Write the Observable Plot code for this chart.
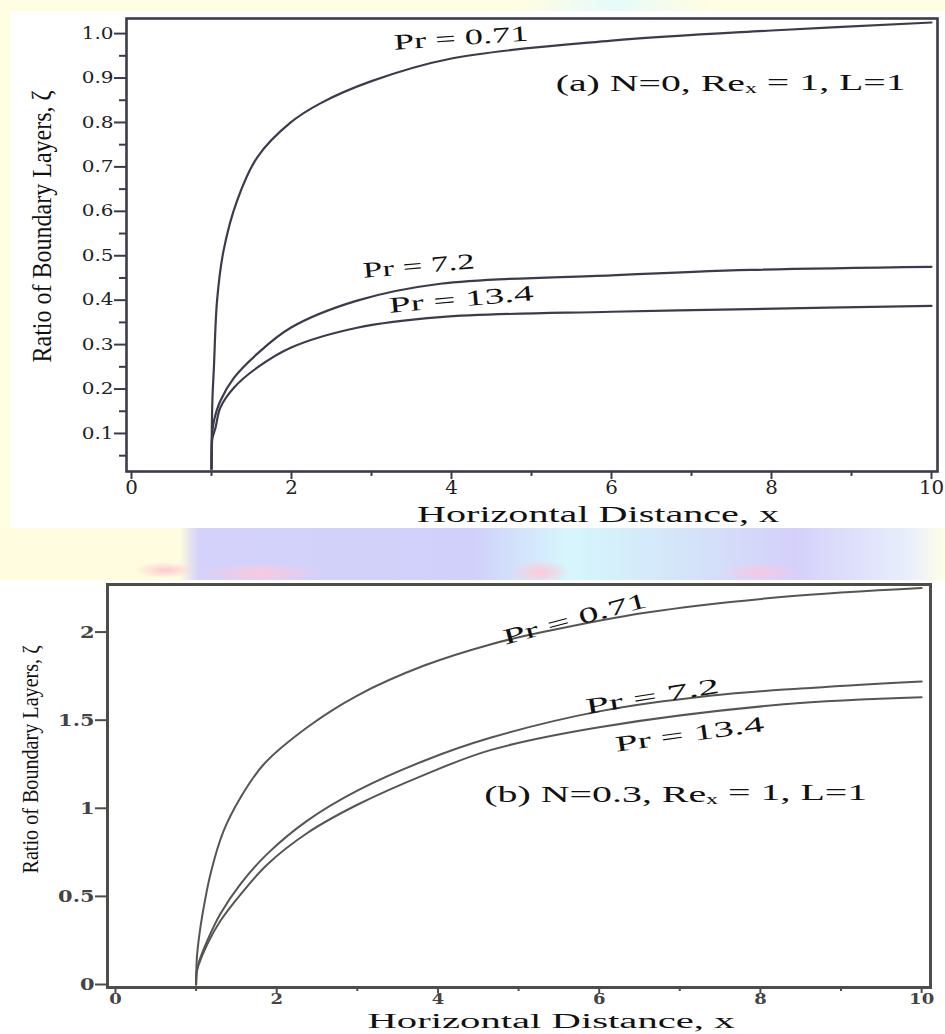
<!DOCTYPE html>
<html><head><meta charset="utf-8">
<script src="https://cdn.jsdelivr.net/npm/d3@7"></script>
<script src="https://cdn.jsdelivr.net/npm/@observablehq/plot@0.6"></script>
<style>
html,body{margin:0;padding:0;}
body{width:945px;height:1034px;position:relative;overflow:hidden;background:#fff;}
#bgTop{position:absolute;left:0;top:0;width:945px;height:528px;background:linear-gradient(90deg,#fffde2 0%,#fffde2 55%,#e6fbfb 65%,#fffde2 75%,#fffde2 100%);}
#whiteTop{position:absolute;left:10px;top:11px;width:935px;height:517px;background:#fff;}
#band{position:absolute;left:0;top:528px;width:945px;height:52px;background:linear-gradient(90deg,#fffce0 0%,#fffce0 19%,#d4d2fa 21%,#d0d0fa 50%,#d6f6fc 60%,#d4e8fa 70%,#d4d0fa 84%,#e8eefc 96%,#fffde8 100%);}
#spots{position:absolute;left:0;top:528px;width:945px;height:52px;background:
 radial-gradient(ellipse 30px 8px at 165px 42px,#ffc8d0 0%,rgba(255,200,210,0) 100%),
 radial-gradient(ellipse 60px 10px at 260px 45px,#ffc8dc 0%,rgba(255,200,220,0) 100%),
 radial-gradient(ellipse 30px 12px at 540px 44px,#ffc8d8 0%,rgba(255,200,220,0) 100%),
 radial-gradient(ellipse 40px 10px at 760px 44px,#f8c8e4 0%,rgba(255,200,220,0) 100%);}
#top{position:absolute;left:0;top:0;}
#bottom{position:absolute;left:0;top:575px;}
</style>
</head><body>
<div id="bgTop"></div><div id="whiteTop"></div><div id="band"></div><div id="spots"></div>
<div id="top"></div><div id="bottom"></div>
<script>
// ---------- data: panel (a) N=0 ----------
const seriesNames = ["Pr = 0.71", "Pr = 7.2", "Pr = 13.4"];
const aX071 = [1.0, 1.004, 1.012, 1.03, 1.07, 1.15, 1.32, 1.57, 1.99, 2.36, 3.0, 4.0, 6.0, 8.0, 10.0];
const aY071 = [0.02, 0.11, 0.18, 0.248, 0.40, 0.511, 0.624, 0.721, 0.80, 0.843, 0.893, 0.944, 0.984, 1.007, 1.025];
const aX72  = [1.0, 1.004, 1.012, 1.03, 1.11, 1.28, 1.57, 1.99, 2.82, 3.86, 6.0, 7.74, 10.0];
const aY72  = [0.02, 0.08, 0.105, 0.128, 0.173, 0.225, 0.279, 0.338, 0.399, 0.437, 0.456, 0.468, 0.475];
const aX134 = [1.0, 1.004, 1.012, 1.05, 1.11, 1.28, 1.57, 1.99, 2.82, 3.86, 6.0, 7.74, 10.0];
const aY134 = [0.02, 0.07, 0.09, 0.113, 0.158, 0.203, 0.248, 0.293, 0.338, 0.362, 0.374, 0.380, 0.387];
const aYTicks = [0.1, 0.2, 0.3, 0.4, 0.5, 0.6, 0.7, 0.8, 0.9, 1.0];
const aYMinor = [0.05, 0.15, 0.25, 0.35, 0.45, 0.55, 0.65, 0.75, 0.85, 0.95];
const aLabelX = [4.12, 3.59, 4.12];
const aLabelY = [0.99, 0.477, 0.402];
const aLabelAngle = [-4, -5, -5];
const aNote = "(a) N=0, Reₓ = 1, L=1";
const aNoteX = 7.49, aNoteY = 0.887;

// ---------- data: panel (b) N=0.3 ----------
const bX071 = [1.0, 1.003, 1.01, 1.04, 1.08, 1.18, 1.34, 1.55, 1.84, 2.38, 3.0, 3.83, 4.65, 5.3, 6.57, 8.29, 10.0];
const bY071 = [0.0, 0.08, 0.155, 0.28, 0.40, 0.63, 0.87, 1.06, 1.25, 1.46, 1.64, 1.81, 1.93, 2.0, 2.11, 2.20, 2.25];
const bX72  = [1.0, 1.003, 1.01, 1.03, 1.14, 1.30, 1.55, 1.88, 2.38, 3.0, 3.83, 4.65, 6.0, 7.4, 8.5, 10.0];
const bY72  = [0.0, 0.05, 0.08, 0.12, 0.25, 0.40, 0.57, 0.74, 0.93, 1.10, 1.27, 1.40, 1.55, 1.64, 1.68, 1.72];
const bX134 = [1.0, 1.003, 1.01, 1.03, 1.14, 1.30, 1.55, 1.88, 2.38, 3.0, 3.83, 4.65, 6.0, 8.29, 10.0];
const bY134 = [0.0, 0.05, 0.075, 0.11, 0.23, 0.36, 0.51, 0.68, 0.86, 1.02, 1.19, 1.33, 1.46, 1.59, 1.63];
const bYTicks = [0, 0.5, 1, 1.5, 2];
const bLabelX = [5.7, 6.66, 7.12];
const bLabelY = [2.075, 1.635, 1.42];
const bLabelAngle = [-15, -9, -8];
const bNote = "(b) N=0.3, Reₓ = 1, L=1";
const bNoteX = 6.95, bNoteY = 1.08;

// ---------- shared ----------
const xTicks = [0, 2, 4, 6, 8, 10];
const xMinor = [1, 3, 5, 7, 9];
const xTitle = "Horizontal Distance, x";
const yTitle = "Ratio of Boundary Layers, ζ";

function rows(xs, ys, name) { return xs.map((x, i) => ({x, y: ys[i], name})); }
const aData = [...rows(aX071, aY071, seriesNames[0]), ...rows(aX72, aY72, seriesNames[1]), ...rows(aX134, aY134, seriesNames[2])];
const bData = [...rows(bX071, bY071, seriesNames[0]), ...rows(bX72, bY72, seriesNames[1]), ...rows(bX134, bY134, seriesNames[2])];
const aLabels = seriesNames.map((t, i) => ({t, x: aLabelX[i], y: aLabelY[i], r: aLabelAngle[i]}));
const bLabels = seriesNames.map((t, i) => ({t, x: bLabelX[i], y: bLabelY[i], r: bLabelAngle[i]}));

function fixTexts(svg, lengths) {
  d3.select(svg).selectAll("text").each(function () {
    const el = this;
    const s = el.textContent;
    if (lengths[s] != null) {
      el.setAttribute("textLength", lengths[s]);
      el.setAttribute("lengthAdjust", "spacingAndGlyphs");
    }
    if (s.includes("Reₓ")) {
      const [pre, post] = s.split("Reₓ");
      const sel = d3.select(el);
      sel.text(null);
      sel.append("tspan").text(pre + "Re");
      sel.append("tspan").attr("font-size", "0.6em").attr("dy", "0.15em").text("x");
      sel.append("tspan").attr("dy", "-0.15em").text(post);
    }
  });
}
// widen axis tick labels (reference glyphs are horizontally stretched)
function stretchTicks(svg, axis, factor) {
  d3.select(svg).selectAll(`g[aria-label="${axis}-axis tick label"] text`).each(function () {
    const w = this.getComputedTextLength();
    if (w > 0) {
      this.setAttribute("textLength", (w * factor).toFixed(1));
      this.setAttribute("lengthAdjust", "spacingAndGlyphs");
    }
  });
}

// ---------- panel (a) ----------
const ink = "#3b3b4c";
const plotA = Plot.plot({
  width: 945, height: 528,
  marginLeft: 126, marginRight: 8, marginTop: 18, marginBottom: 57,
  x: {domain: [-0.0625, 10.075]},
  y: {domain: [0.0144, 1.034]},
  style: {fontFamily: "DejaVu Serif", fontSize: "16px", color: ink, background: "transparent"},
  marks: [
    Plot.line(aData, {x: "x", y: "y", z: "name", curve: "catmull-rom", stroke: ink, strokeWidth: 2.2, clip: true}),
    Plot.frame({stroke: ink, strokeWidth: 2.6}),
    Plot.axisY({ticks: aYTicks, tickSize: 12, tickPadding: 1, tickFormat: d3.format(".1f"), strokeWidth: 2, label: null, fill: "#222", fontSize: 16}),
    Plot.axisY({ticks: aYMinor, tickSize: 7, tickFormat: () => "", strokeWidth: 2, label: null}),
    Plot.axisX({ticks: xTicks, tickSize: 8, tickPadding: 2, strokeWidth: 2, label: null, fill: "#222", fontSize: 18}),
    Plot.axisX({ticks: xMinor, tickSize: 5, tickFormat: () => "", strokeWidth: 2, label: null}),
    Plot.text(aLabels, {x: "x", y: "y", text: "t", rotate: "r", fontFamily: "Liberation Serif", fontSize: 22, fill: "#111"}),
    Plot.text([aNote], {x: () => aNoteX, y: () => aNoteY, text: d => d, fontFamily: "Liberation Serif", fontSize: 23, fill: "#111"}),
    Plot.text([xTitle], {frameAnchor: "bottom", dx: 66, dy: 43, lineAnchor: "middle", textAnchor: "middle", text: d => d, fontFamily: "Liberation Serif", fontSize: 23, fill: "#111"}),
    Plot.text([yTitle], {frameAnchor: "left", rotate: -90, dx: -76, dy: 117.5, lineAnchor: "bottom", textAnchor: "start", text: d => d, fontFamily: "Liberation Serif", fontSize: 27, fill: "#111"})
  ]
});
fixTexts(plotA, {"Pr = 0.71": 135, "Pr = 7.2": 112, "Pr = 13.4": 145, [aNote]: 350, [xTitle]: 362, [yTitle]: 272});
document.getElementById("top").append(plotA);
stretchTicks(plotA, "y", 1.25);
stretchTicks(plotA, "x", 1.1);

// ---------- panel (b) ----------
const ink2 = "#4d4d4a";
const plotB = Plot.plot({
  width: 945, height: 459,
  marginLeft: 107, marginRight: 15, marginTop: 9, marginBottom: 47,
  x: {domain: [-0.099, 10.11]},
  y: {domain: [-0.017, 2.27]},
  style: {fontFamily: "DejaVu Serif", fontSize: "16px", fontWeight: "bold", color: ink2, background: "transparent"},
  marks: [
    Plot.line(bData, {x: "x", y: "y", z: "name", curve: "catmull-rom", stroke: "#555552", strokeWidth: 2, clip: true}),
    Plot.frame({stroke: ink2, strokeWidth: 3}),
    Plot.axisY({ticks: bYTicks, tickSize: 12, tickPadding: 1, tickFormat: d => String(d), strokeWidth: 2, label: null, fill: "#444", fontSize: 17}),
    Plot.axisX({ticks: xTicks, tickSize: 6, tickPadding: 0, strokeWidth: 2, label: null, fill: "#444", fontSize: 15}),
    Plot.axisX({ticks: xMinor, tickSize: 4, tickFormat: () => "", strokeWidth: 2, label: null}),
    Plot.text(bLabels, {x: "x", y: "y", text: "t", rotate: "r", fontFamily: "Liberation Serif", fontSize: 22, fontWeight: "normal", fill: "#111"}),
    Plot.text([bNote], {x: () => bNoteX, y: () => bNoteY, text: d => d, fontFamily: "Liberation Serif", fontSize: 23, fontWeight: "normal", fill: "#111"}),
    Plot.text([xTitle], {frameAnchor: "bottom", dx: 32, dy: 34, lineAnchor: "middle", textAnchor: "middle", text: d => d, fontFamily: "Liberation Serif", fontSize: 20, fontWeight: "normal", fill: "#111"}),
    Plot.text([yTitle], {frameAnchor: "left", rotate: -90, dx: -70, dy: 87.5, lineAnchor: "bottom", textAnchor: "start", text: d => d, fontFamily: "Liberation Serif", fontSize: 24, fontWeight: "normal", fill: "#111"})
  ]
});
fixTexts(plotB, {"Pr = 0.71": 148, "Pr = 7.2": 135, "Pr = 13.4": 150, [bNote]: 383, [xTitle]: 367, [yTitle]: 228});
document.getElementById("bottom").append(plotB);
stretchTicks(plotB, "y", 1.23);
stretchTicks(plotB, "x", 1.2);
</script>
</body></html>
